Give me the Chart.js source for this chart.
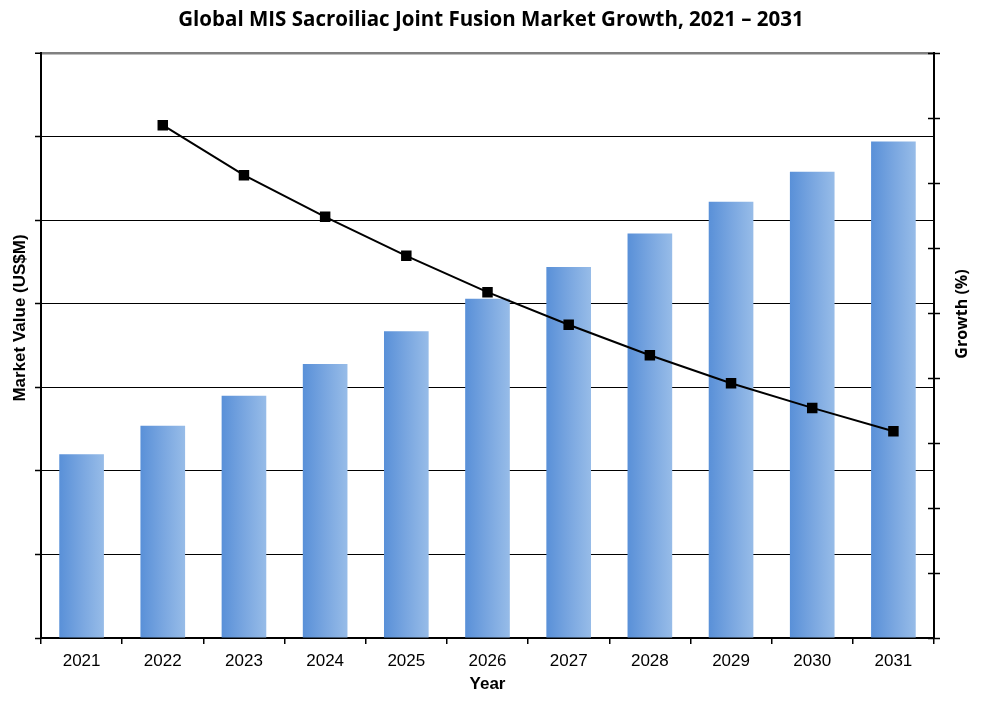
<!DOCTYPE html>
<html>
<head>
<meta charset="utf-8">
<script src="https://cdn.jsdelivr.net/npm/chart.js@4/dist/chart.umd.min.js"></script>
<style>
  html, body { margin: 0; padding: 0; background: #fff; }
  #wrap { width: 982px; height: 708px; }
</style>
</head>
<body>
<div id="wrap"><canvas id="growthChart" width="982" height="708"></canvas></div>
<script>
// Chart data
const years = ["2021", "2022", "2023", "2024", "2025", "2026", "2027", "2028", "2029", "2030", "2031"];
const marketValue = [220, 254, 290, 328, 367, 406, 444, 484, 522, 558, 594];   // US$M (no labels shown)
const growthPct = [null, 7.89, 7.12, 6.48, 5.88, 5.32, 4.82, 4.35, 3.92, 3.54, 3.18]; // %

const BAR_PCT = 0.55;

// blue gradient for each bar, darker on the left
function barGradient(ctx) {
    const chart = ctx.chart;
    if (!chart.chartArea) return "#7aa6e0";
    const xs = chart.scales.x;
    const cx = xs.getPixelForValue(ctx.dataIndex);
    const w = xs.width / years.length * BAR_PCT;
    const g = chart.ctx.createLinearGradient(cx - w / 2, 0, cx + w / 2, 0);
    g.addColorStop(0, "#5990d8");
    g.addColorStop(0.5, "#79a6e0");
    g.addColorStop(1, "#97bce8");
    return g;
}

// tick marks crossing the right axis + both vertical axis titles (read bottom to top)
const axisExtras = {
    id: "axisExtras",
    afterDraw(chart) {
        const s = chart.scales.y1;
        const c = chart.ctx;
        c.save();
        c.strokeStyle = "#000";
        c.lineWidth = 1.5;
        s.ticks.forEach(t => {
            const y = Math.round(s.getPixelForValue(t.value)) + 0.5;
            c.beginPath();
            c.moveTo(s.left - 6, y);
            c.lineTo(s.left + 6, y);
            c.stroke();
        });

        c.fillStyle = "#000";
        c.textAlign = "center";
        c.textBaseline = "middle";

        c.save();
        c.translate(20, 318);
        c.rotate(-Math.PI / 2);
        c.font = "bold 17px 'Liberation Sans', Arial, sans-serif";
        c.fillText("Market Value (US$M)", 0, 0);
        c.restore();

        c.save();
        c.translate(962, 314);
        c.rotate(-Math.PI / 2);
        c.font = "bold 16px 'Open Sans', sans-serif";
        c.fillText("Growth (%)", 0, 0);
        c.restore();

        c.restore();
    }
};

const ctx = document.getElementById("growthChart").getContext("2d");
new Chart(ctx, {
    data: {
        labels: years,
        datasets: [
            {
                type: "line",
                label: "Growth (%)",
                data: growthPct,
                yAxisID: "y1",
                borderColor: "#000",
                borderWidth: 2,
                backgroundColor: "#000",
                pointStyle: "rect",
                pointRadius: 6,
                pointHoverRadius: 6,
                tension: 0,
                order: 0
            },
            {
                type: "bar",
                label: "Market Value (US$M)",
                data: marketValue,
                yAxisID: "y",
                backgroundColor: barGradient,
                borderWidth: 0,
                categoryPercentage: 1,
                barPercentage: BAR_PCT,
                order: 1
            }
        ]
    },
    options: {
        responsive: false,
        animation: false,
        layout: { padding: 0 },
        plugins: {
            legend: { display: false },
            tooltip: { enabled: false },
            title: {
                display: true,
                text: "Global MIS Sacroiliac Joint Fusion Market Growth, 2021 – 2031",
                color: "#000",
                font: { family: "'Open Sans', 'Liberation Sans', sans-serif", size: 20.5, weight: "bold", lineHeight: 1.2 },
                padding: { top: 8, bottom: 20.4 }
            }
        },
        scales: {
            x: {
                offset: true,
                grid: { display: true, drawOnChartArea: false, offset: true, color: "#000", lineWidth: 1.5, tickLength: 6 },
                border: { display: true, color: "#000", width: 2 },
                ticks: { color: "#000", padding: 7, font: { family: "'Liberation Sans', Arial, sans-serif", size: 17 } },
                title: {
                    display: true,
                    text: "Year",
                    color: "#000",
                    font: { family: "'Liberation Sans', Arial, sans-serif", size: 17, weight: "bold" },
                    padding: { top: 2, bottom: 13 }
                },
                afterFit(scale) { scale.height = 70; }
            },
            y: {
                position: "left",
                min: 0,
                max: 700,
                ticks: { stepSize: 100, display: false },
                grid: {
                    color: c => c.tick && c.tick.value === 700 ? "#808080" : "#000",
                    lineWidth: c => c.tick && c.tick.value === 700 ? 2.5 : 1,
                    tickColor: "#000",
                    tickWidth: 1.5,
                    tickLength: 6
                },
                border: { display: true, color: "#000", width: 2 },
                title: { display: false },
                afterFit(scale) { scale.width = 41; }
            },
            y1: {
                position: "right",
                min: 0,
                max: 9,
                ticks: { stepSize: 1, display: false },
                grid: { display: false },
                border: { display: true, color: "#000", width: 2 },
                title: { display: false },
                afterFit(scale) { scale.width = 48; }
            }
        }
    },
    plugins: [axisExtras]
});
</script>
</body>
</html>
